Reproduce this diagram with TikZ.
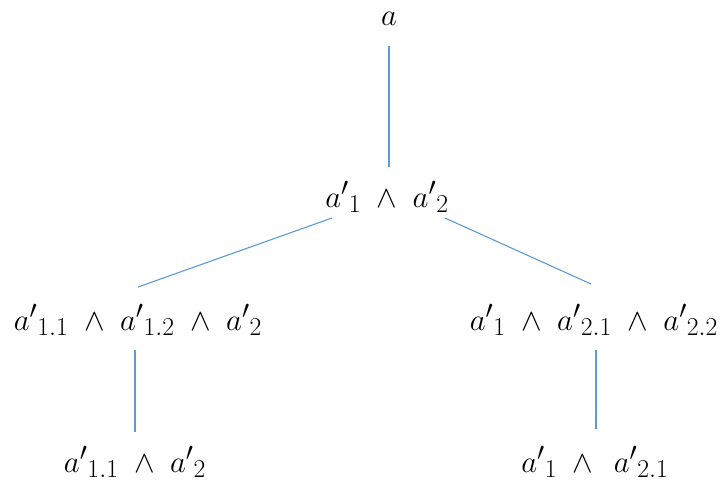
\documentclass[tikz,border=0pt]{standalone}
\usepackage{amsmath}
\usepackage{graphicx}
\definecolor{linkblue}{RGB}{91,155,213}
\newcommand{\mylbl}[1]{\scalebox{1.24}{$#1$}}
\tikzset{
  lbl/.style={anchor=base, inner sep=0pt, font=\Huge},
  link/.style={draw=linkblue, line width=1.1pt}
}
\newcommand{\ap}[1]{a'{}_{#1}}
\begin{document}
\begin{tikzpicture}[x=1pt,y=-1pt]
\useasboundingbox (0,0) rectangle (721,483);
\node[lbl] (top) at (389,25) {\mylbl{a}};
\node[lbl] (mid) at (387,207) {\mylbl{\ap{1}\;\wedge\;\ap{2}}};
\node[lbl] (left) at (138,330) {\mylbl{\ap{1.1}\;\wedge\;\ap{1.2}\;\wedge\;\ap{2}}};
\node[lbl] (right) at (594,330) {\mylbl{\ap{1}\;\wedge\;\ap{2.1}\;\wedge\;\ap{2.2}}};
\node[lbl] (bl) at (135,472) {\mylbl{\ap{1.1}\;\wedge\;\ap{2}}};
\node[lbl] (br) at (595,472) {\mylbl{\ap{1}\;\wedge\;\,\ap{2.1}}};
\draw[link] ([yshift=-21pt]top.base) -- ([xshift=2pt,yshift=40pt]mid.base);
\draw[link] ([xshift=-55pt,yshift=-11pt]mid.base) -- ([yshift=43pt]left.base);
\draw[link] ([xshift=58pt,yshift=-11pt]mid.base) -- ([xshift=-3pt,yshift=46pt]right.base);
\draw[link] ([xshift=-3pt,yshift=-20pt]left.base) -- ([yshift=40pt]bl.base);
\draw[link] ([xshift=2pt,yshift=-20pt]right.base) -- ([xshift=1pt,yshift=43pt]br.base);
\end{tikzpicture}
\end{document}
